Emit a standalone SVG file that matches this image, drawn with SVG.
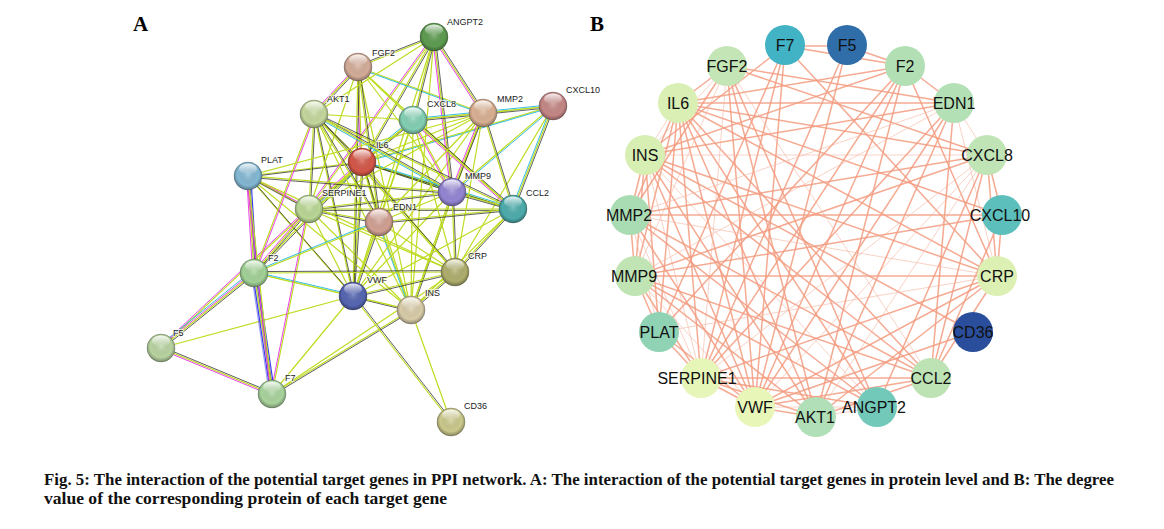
<svg xmlns="http://www.w3.org/2000/svg" width="1164" height="529" viewBox="0 0 1164 529">
<defs>
<style>
.y{stroke:#bfdb22;stroke-width:1.2;fill:none}
.k{stroke:#2a2a2a;stroke-width:0.75;fill:none}
.m{stroke:#e62ce6;stroke-width:0.9;fill:none}
.c{stroke:#20b4dc;stroke-width:0.9;fill:none}
.b{stroke:#3c3cf0;stroke-width:1.2;fill:none}
.la{font-family:"Liberation Sans",Arial,sans-serif;font-size:9px;fill:#222;stroke:#fff;stroke-width:2;stroke-opacity:0.7;paint-order:stroke}
.lb{font-family:"Liberation Sans",Arial,sans-serif;font-size:16px;fill:#111;text-anchor:middle}
.s{stroke:#f49c80;stroke-width:1.5;opacity:0.85}
.w{stroke:#f7b6a2;stroke-width:1;opacity:0.6}
.pl{font-family:"Liberation Serif","Times New Roman",serif;font-weight:bold;font-size:21px;fill:#000}
.cap{font-family:"Liberation Serif","Times New Roman",serif;font-weight:bold;font-size:16px;fill:#111}
</style>
<radialGradient id="shade" cx="50%" cy="45%" r="55%">
<stop offset="0" stop-color="#fff" stop-opacity="0.25"/>
<stop offset="0.7" stop-color="#000" stop-opacity="0.02"/>
<stop offset="1" stop-color="#000" stop-opacity="0.35"/>
</radialGradient>
<linearGradient id="gloss" x1="0" y1="0" x2="0" y2="1">
<stop offset="0" stop-color="#fff" stop-opacity="0.85"/>
<stop offset="1" stop-color="#fff" stop-opacity="0"/>
</linearGradient>
<g id="sph"><circle r="14" fill="url(#shade)" stroke="#000" stroke-opacity="0.25" stroke-width="0.8"/><ellipse cy="-7" rx="9" ry="5.5" fill="url(#gloss)"/></g>
</defs>
<rect width="1164" height="529" fill="#fff"/>
<text class="pl" x="133" y="31">A</text>
<text class="pl" x="590" y="31">B</text>

<g id="edges-a">
<line class="y" x1="362" y1="162" x2="314" y2="114"/><line class="k" x1="362" y1="162" x2="314" y2="114" transform="translate(1.3,0.8)"/>
<line class="y" x1="362" y1="162" x2="353" y2="296"/><line class="k" x1="362" y1="162" x2="353" y2="296" transform="translate(1.3,0.8)"/>
<line class="y" x1="362" y1="162" x2="309" y2="209"/><line class="k" x1="362" y1="162" x2="309" y2="209" transform="translate(1.3,0.8)"/><line class="m" x1="362" y1="162" x2="309" y2="209" transform="translate(-1.3,-0.8)"/><line class="c" x1="362" y1="162" x2="309" y2="209" transform="translate(2.4,1.6)"/>
<line class="y" x1="362" y1="162" x2="248" y2="176"/><line class="k" x1="362" y1="162" x2="248" y2="176" transform="translate(1.3,0.8)"/>
<line class="y" x1="362" y1="162" x2="452" y2="192"/><line class="k" x1="362" y1="162" x2="452" y2="192" transform="translate(1.3,0.8)"/><line class="c" x1="362" y1="162" x2="452" y2="192" transform="translate(-0.8,-1.5)"/>
<line class="y" x1="362" y1="162" x2="483" y2="113"/>
<line class="y" x1="362" y1="162" x2="411" y2="310"/>
<line class="y" x1="362" y1="162" x2="358" y2="67"/><line class="m" x1="362" y1="162" x2="358" y2="67" transform="translate(-1.3,-0.8)"/>
<line class="y" x1="362" y1="162" x2="254" y2="273"/><line class="k" x1="362" y1="162" x2="254" y2="273" transform="translate(1.3,0.8)"/>
<line class="y" x1="362" y1="162" x2="379" y2="222"/><line class="k" x1="362" y1="162" x2="379" y2="222" transform="translate(1.3,0.8)"/>
<line class="y" x1="362" y1="162" x2="413" y2="120"/><line class="k" x1="362" y1="162" x2="413" y2="120" transform="translate(1.3,0.8)"/><line class="c" x1="362" y1="162" x2="413" y2="120" transform="translate(-1.3,-0.8)"/>
<line class="y" x1="362" y1="162" x2="553" y2="106"/><line class="c" x1="362" y1="162" x2="553" y2="106" transform="translate(-0.8,1.3)"/>
<line class="y" x1="362" y1="162" x2="455" y2="272"/>
<line class="y" x1="362" y1="162" x2="513" y2="209"/><line class="k" x1="362" y1="162" x2="513" y2="209" transform="translate(1.3,0.8)"/><line class="c" x1="362" y1="162" x2="513" y2="209" transform="translate(-0.8,-1.5)"/>
<line class="y" x1="362" y1="162" x2="434" y2="37"/><line class="k" x1="362" y1="162" x2="434" y2="37" transform="translate(1.3,0.8)"/>
<line class="y" x1="411" y1="310" x2="314" y2="114"/>
<line class="y" x1="411" y1="310" x2="353" y2="296"/><line class="k" x1="411" y1="310" x2="353" y2="296" transform="translate(0.6,1.4)"/>
<line class="y" x1="411" y1="310" x2="309" y2="209"/>
<line class="y" x1="411" y1="310" x2="248" y2="176"/>
<line class="y" x1="411" y1="310" x2="452" y2="192"/><line class="k" x1="411" y1="310" x2="452" y2="192" transform="translate(1.3,0.8)"/>
<line class="y" x1="411" y1="310" x2="483" y2="113"/>
<line class="y" x1="411" y1="310" x2="358" y2="67"/>
<line class="y" x1="411" y1="310" x2="254" y2="273"/>
<line class="y" x1="411" y1="310" x2="379" y2="222"/><line class="c" x1="411" y1="310" x2="379" y2="222" transform="translate(-1.3,-0.8)"/>
<line class="y" x1="411" y1="310" x2="413" y2="120"/>
<line class="y" x1="411" y1="310" x2="455" y2="272"/><line class="k" x1="411" y1="310" x2="455" y2="272" transform="translate(1.3,0.8)"/>
<line class="y" x1="411" y1="310" x2="451" y2="422"/>
<line class="y" x1="411" y1="310" x2="513" y2="209"/>
<line class="y" x1="411" y1="310" x2="434" y2="37"/>
<line class="y" x1="411" y1="310" x2="272" y2="394"/><line class="k" x1="411" y1="310" x2="272" y2="394" transform="translate(1.3,0.8)"/>
<line class="y" x1="353" y1="296" x2="314" y2="114"/><line class="k" x1="353" y1="296" x2="314" y2="114" transform="translate(1.3,0.8)"/>
<line class="y" x1="353" y1="296" x2="309" y2="209"/>
<line class="y" x1="353" y1="296" x2="248" y2="176"/><line class="k" x1="353" y1="296" x2="248" y2="176" transform="translate(1.3,0.8)"/>
<line class="y" x1="353" y1="296" x2="452" y2="192"/>
<line class="y" x1="353" y1="296" x2="483" y2="113"/>
<line class="y" x1="353" y1="296" x2="358" y2="67"/><line class="k" x1="353" y1="296" x2="358" y2="67" transform="translate(1.3,0.8)"/>
<line class="y" x1="353" y1="296" x2="272" y2="394"/>
<line class="y" x1="353" y1="296" x2="161" y2="348"/>
<line class="y" x1="353" y1="296" x2="254" y2="273"/><line class="c" x1="353" y1="296" x2="254" y2="273" transform="translate(-0.4,-1.4)"/>
<line class="y" x1="353" y1="296" x2="379" y2="222"/><line class="k" x1="353" y1="296" x2="379" y2="222" transform="translate(1.3,0.8)"/>
<line class="y" x1="353" y1="296" x2="413" y2="120"/>
<line class="y" x1="353" y1="296" x2="455" y2="272"/><line class="k" x1="353" y1="296" x2="455" y2="272" transform="translate(0.4,1.4)"/>
<line class="y" x1="353" y1="296" x2="451" y2="422"/><line class="k" x1="353" y1="296" x2="451" y2="422" transform="translate(1.3,-0.8)"/>
<line class="y" x1="353" y1="296" x2="513" y2="209"/>
<line class="y" x1="353" y1="296" x2="434" y2="37"/>
<line class="y" x1="309" y1="209" x2="314" y2="114"/><line class="k" x1="309" y1="209" x2="314" y2="114" transform="translate(1.4,0)"/>
<line class="y" x1="309" y1="209" x2="248" y2="176"/><line class="k" x1="309" y1="209" x2="248" y2="176" transform="translate(0.7,1.3)"/><line class="m" x1="309" y1="209" x2="248" y2="176" transform="translate(-0.7,-1.3)"/>
<line class="y" x1="309" y1="209" x2="452" y2="192"/><line class="k" x1="309" y1="209" x2="452" y2="192" transform="translate(0.2,1.4)"/>
<line class="y" x1="309" y1="209" x2="483" y2="113"/>
<line class="y" x1="309" y1="209" x2="358" y2="67"/>
<line class="y" x1="309" y1="209" x2="272" y2="394"/><line class="m" x1="309" y1="209" x2="272" y2="394" transform="translate(-1.4,0)"/>
<line class="y" x1="309" y1="209" x2="161" y2="348"/><line class="m" x1="309" y1="209" x2="161" y2="348" transform="translate(-1,-1)"/>
<line class="y" x1="309" y1="209" x2="254" y2="273"/><line class="k" x1="309" y1="209" x2="254" y2="273" transform="translate(1,1)"/><line class="m" x1="309" y1="209" x2="254" y2="273" transform="translate(-1,-1)"/>
<line class="y" x1="309" y1="209" x2="379" y2="222"/><line class="k" x1="309" y1="209" x2="379" y2="222" transform="translate(0.2,1.4)"/>
<line class="y" x1="309" y1="209" x2="413" y2="120"/>
<line class="y" x1="309" y1="209" x2="455" y2="272"/>
<line class="y" x1="309" y1="209" x2="513" y2="209"/><line class="k" x1="309" y1="209" x2="513" y2="209" transform="translate(0,1.4)"/>
<line class="y" x1="309" y1="209" x2="434" y2="37"/><line class="m" x1="309" y1="209" x2="434" y2="37" transform="translate(-1.2,-0.8)"/>
<line class="y" x1="455" y1="272" x2="314" y2="114"/><line class="k" x1="455" y1="272" x2="314" y2="114" transform="translate(1.3,-0.8)"/>
<line class="y" x1="455" y1="272" x2="248" y2="176"/>
<line class="y" x1="455" y1="272" x2="452" y2="192"/><line class="k" x1="455" y1="272" x2="452" y2="192" transform="translate(1.4,0)"/>
<line class="y" x1="455" y1="272" x2="483" y2="113"/>
<line class="y" x1="455" y1="272" x2="254" y2="273"/><line class="k" x1="455" y1="272" x2="254" y2="273" transform="translate(0,-1.4)"/>
<line class="y" x1="455" y1="272" x2="379" y2="222"/>
<line class="y" x1="455" y1="272" x2="413" y2="120"/>
<line class="y" x1="455" y1="272" x2="553" y2="106"/>
<line class="y" x1="455" y1="272" x2="513" y2="209"/><line class="k" x1="455" y1="272" x2="513" y2="209" transform="translate(1,1)"/>
<line class="y" x1="455" y1="272" x2="272" y2="394"/>
<line class="y" x1="358" y1="67" x2="314" y2="114"/><line class="k" x1="358" y1="67" x2="314" y2="114" transform="translate(1,1)"/><line class="m" x1="358" y1="67" x2="314" y2="114" transform="translate(-1,-1)"/>
<line class="y" x1="358" y1="67" x2="452" y2="192"/>
<line class="y" x1="358" y1="67" x2="483" y2="113"/><line class="c" x1="358" y1="67" x2="483" y2="113" transform="translate(0.5,1.3)"/>
<line class="y" x1="358" y1="67" x2="379" y2="222"/><line class="k" x1="358" y1="67" x2="379" y2="222" transform="translate(1.4,0)"/>
<line class="y" x1="358" y1="67" x2="413" y2="120"/>
<line class="y" x1="358" y1="67" x2="513" y2="209"/>
<line class="y" x1="358" y1="67" x2="434" y2="37"/><line class="k" x1="358" y1="67" x2="434" y2="37" transform="translate(-0.5,-1.3)"/>
<line class="y" x1="452" y1="192" x2="314" y2="114"/><line class="k" x1="452" y1="192" x2="314" y2="114" transform="translate(0.7,-1.2)"/><line class="c" x1="452" y1="192" x2="314" y2="114" transform="translate(-0.7,1.2)"/>
<line class="y" x1="452" y1="192" x2="248" y2="176"/><line class="k" x1="452" y1="192" x2="248" y2="176" transform="translate(0,1.4)"/>
<line class="y" x1="452" y1="192" x2="483" y2="113"/><line class="k" x1="452" y1="192" x2="483" y2="113" transform="translate(1.3,0.5)"/><line class="m" x1="452" y1="192" x2="483" y2="113" transform="translate(-1.3,-0.5)"/>
<line class="y" x1="452" y1="192" x2="379" y2="222"/>
<line class="y" x1="452" y1="192" x2="413" y2="120"/><line class="m" x1="452" y1="192" x2="413" y2="120" transform="translate(-1.2,0.7)"/>
<line class="y" x1="452" y1="192" x2="553" y2="106"/><line class="c" x1="452" y1="192" x2="553" y2="106" transform="translate(1,1)"/>
<line class="y" x1="452" y1="192" x2="513" y2="209"/><line class="k" x1="452" y1="192" x2="513" y2="209" transform="translate(0.3,1.3)"/>
<line class="y" x1="452" y1="192" x2="434" y2="37"/><line class="k" x1="452" y1="192" x2="434" y2="37" transform="translate(1.4,0)"/><line class="m" x1="452" y1="192" x2="434" y2="37" transform="translate(-1.4,0)"/>
<line class="y" x1="314" y1="114" x2="379" y2="222"/><line class="k" x1="314" y1="114" x2="379" y2="222" transform="translate(1.2,-0.7)"/>
<line class="y" x1="314" y1="114" x2="413" y2="120"/>
<line class="y" x1="314" y1="114" x2="513" y2="209"/><line class="k" x1="314" y1="114" x2="513" y2="209" transform="translate(0.6,-1.3)"/>
<line class="y" x1="314" y1="114" x2="434" y2="37"/>
<line class="y" x1="314" y1="114" x2="254" y2="273"/><line class="m" x1="314" y1="114" x2="254" y2="273" transform="translate(1.3,0.5)"/>
<line class="y" x1="413" y1="120" x2="483" y2="113"/><line class="k" x1="413" y1="120" x2="483" y2="113" transform="translate(0,1.4)"/><line class="c" x1="413" y1="120" x2="483" y2="113" transform="translate(0,-1.4)"/>
<line class="y" x1="413" y1="120" x2="379" y2="222"/>
<line class="y" x1="413" y1="120" x2="553" y2="106"/>
<line class="y" x1="413" y1="120" x2="513" y2="209"/><line class="k" x1="413" y1="120" x2="513" y2="209" transform="translate(1,-1)"/><line class="m" x1="413" y1="120" x2="513" y2="209" transform="translate(-1,1)"/>
<line class="y" x1="413" y1="120" x2="434" y2="37"/><line class="k" x1="413" y1="120" x2="434" y2="37" transform="translate(1.4,0.3)"/>
<line class="y" x1="379" y1="222" x2="483" y2="113"/>
<line class="y" x1="379" y1="222" x2="513" y2="209"/><line class="k" x1="379" y1="222" x2="513" y2="209" transform="translate(0.1,1.4)"/>
<line class="y" x1="379" y1="222" x2="254" y2="273"/><line class="c" x1="379" y1="222" x2="254" y2="273" transform="translate(-0.5,-1.3)"/>
<line class="y" x1="254" y1="273" x2="248" y2="176"/><line class="k" x1="254" y1="273" x2="248" y2="176" transform="translate(1.4,0)"/><line class="m" x1="254" y1="273" x2="248" y2="176" transform="translate(-1.4,0)"/><line class="b" x1="254" y1="273" x2="248" y2="176" transform="translate(2.8,0)"/>
<line class="y" x1="254" y1="273" x2="272" y2="394"/><line class="k" x1="254" y1="273" x2="272" y2="394" transform="translate(1.4,0)"/><line class="b" x1="254" y1="273" x2="272" y2="394" transform="translate(-1.4,0)"/><line class="b" x1="254" y1="273" x2="272" y2="394" transform="translate(2.8,0)"/><line class="b" x1="254" y1="273" x2="272" y2="394" transform="translate(-2.6,0)" style="opacity:0.5"/>
<line class="y" x1="254" y1="273" x2="161" y2="348"/><line class="k" x1="254" y1="273" x2="161" y2="348" transform="translate(0.9,1.1)"/><line class="m" x1="254" y1="273" x2="161" y2="348" transform="translate(-0.9,-1.1)"/><line class="c" x1="254" y1="273" x2="161" y2="348" transform="translate(-1.8,-2.2)"/>
<line class="y" x1="513" y1="209" x2="553" y2="106"/><line class="k" x1="513" y1="209" x2="553" y2="106" transform="translate(1.3,0.5)"/><line class="c" x1="513" y1="209" x2="553" y2="106" transform="translate(-1.3,-0.5)"/>
<line class="y" x1="513" y1="209" x2="483" y2="113"/><line class="k" x1="513" y1="209" x2="483" y2="113" transform="translate(1.3,-0.4)"/>
<line class="y" x1="483" y1="113" x2="434" y2="37"/><line class="k" x1="483" y1="113" x2="434" y2="37" transform="translate(1.2,-0.7)"/><line class="m" x1="483" y1="113" x2="434" y2="37" transform="translate(-1.2,0.7)"/>
<line class="y" x1="483" y1="113" x2="248" y2="176"/>
<line class="y" x1="248" y1="176" x2="272" y2="394"/><line class="m" x1="248" y1="176" x2="272" y2="394" transform="translate(-1.4,0)"/>
<line class="y" x1="272" y1="394" x2="161" y2="348"/><line class="k" x1="272" y1="394" x2="161" y2="348" transform="translate(0.5,-1.3)"/><line class="m" x1="272" y1="394" x2="161" y2="348" transform="translate(-0.5,1.3)"/>
<line class="y" x1="483" y1="113" x2="553" y2="106"/><line class="k" x1="483" y1="113" x2="553" y2="106" transform="translate(0,1.4)"/><line class="c" x1="483" y1="113" x2="553" y2="106" transform="translate(0,-1.4)"/>
</g>

<g id="a-ANGPT2"><circle cx="434" cy="37" r="14" fill="#5f9f52"/><use href="#sph" x="434" y="37"/><text class="la" x="447" y="24.5">ANGPT2</text></g>
<g id="a-FGF2"><circle cx="358" cy="67" r="14" fill="#d8b09c"/><use href="#sph" x="358" y="67"/><text class="la" x="372" y="55.5">FGF2</text></g>
<g id="a-AKT1"><circle cx="314" cy="114" r="14" fill="#c9dca0"/><use href="#sph" x="314" y="114"/><text class="la" x="327" y="102">AKT1</text></g>
<g id="a-CXCL8"><circle cx="413" cy="120" r="14" fill="#86d4b8"/><use href="#sph" x="413" y="120"/><text class="la" x="427" y="107">CXCL8</text></g>
<g id="a-MMP2"><circle cx="483" cy="113" r="14" fill="#deb496"/><use href="#sph" x="483" y="113"/><text class="la" x="497" y="102">MMP2</text></g>
<g id="a-CXCL10"><circle cx="553" cy="106" r="14" fill="#c98a88"/><use href="#sph" x="553" y="106"/><text class="la" x="566" y="93">CXCL10</text></g>
<g id="a-IL6"><circle cx="362" cy="162" r="14" fill="#d9594a"/><use href="#sph" x="362" y="162"/><text class="la" x="376" y="148">IL6</text></g>
<g id="a-PLAT"><circle cx="248" cy="176" r="14" fill="#86bcd8"/><use href="#sph" x="248" y="176"/><text class="la" x="261" y="163">PLAT</text></g>
<g id="a-MMP9"><circle cx="452" cy="192" r="14" fill="#9888d8"/><use href="#sph" x="452" y="192"/><text class="la" x="465" y="178.5">MMP9</text></g>
<g id="a-CCL2"><circle cx="513" cy="209" r="14" fill="#4fb0b0"/><use href="#sph" x="513" y="209"/><text class="la" x="526" y="196">CCL2</text></g>
<g id="a-SERPINE1"><circle cx="309" cy="209" r="14" fill="#bedc98"/><use href="#sph" x="309" y="209"/><text class="la" x="322" y="195.5">SERPINE1</text></g>
<g id="a-EDN1"><circle cx="379" cy="222" r="14" fill="#d6a496"/><use href="#sph" x="379" y="222"/><text class="la" x="393" y="209.5">EDN1</text></g>
<g id="a-F2"><circle cx="254" cy="273" r="14" fill="#a6d69a"/><use href="#sph" x="254" y="273"/><text class="la" x="268" y="261">F2</text></g>
<g id="a-VWF"><circle cx="353" cy="296" r="14" fill="#5868b6"/><use href="#sph" x="353" y="296"/><text class="la" x="367" y="283">VWF</text></g>
<g id="a-CRP"><circle cx="455" cy="272" r="14" fill="#b3b270"/><use href="#sph" x="455" y="272"/><text class="la" x="468" y="259">CRP</text></g>
<g id="a-INS"><circle cx="411" cy="310" r="14" fill="#ddd0ac"/><use href="#sph" x="411" y="310"/><text class="la" x="425" y="295.5">INS</text></g>
<g id="a-F5"><circle cx="161" cy="348" r="14" fill="#bcd8a4"/><use href="#sph" x="161" y="348"/><text class="la" x="173" y="335.5">F5</text></g>
<g id="a-F7"><circle cx="272" cy="394" r="14" fill="#acd8a0"/><use href="#sph" x="272" y="394"/><text class="la" x="285" y="381">F7</text></g>
<g id="a-CD36"><circle cx="451" cy="422" r="14" fill="#cfcd8e"/><use href="#sph" x="451" y="422"/><text class="la" x="464" y="408.5">CD36</text></g>

<g id="edges-b">
<line class="s" x1="678" y1="103" x2="816" y2="417"/>
<line class="s" x1="678" y1="103" x2="755" y2="407"/>
<line class="s" x1="678" y1="103" x2="701" y2="378"/>
<line class="s" x1="678" y1="103" x2="659" y2="332"/>
<line class="s" x1="678" y1="103" x2="635" y2="276"/>
<line class="s" x1="678" y1="103" x2="630" y2="215"/>
<line class="w" x1="678" y1="103" x2="645" y2="155"/>
<line class="s" x1="678" y1="103" x2="727" y2="66"/>
<line class="s" x1="678" y1="103" x2="905" y2="66"/>
<line class="s" x1="678" y1="103" x2="954" y2="103"/>
<line class="s" x1="678" y1="103" x2="987" y2="155"/>
<line class="s" x1="678" y1="103" x2="1002" y2="215"/>
<line class="s" x1="678" y1="103" x2="997" y2="276"/>
<line class="s" x1="678" y1="103" x2="931" y2="378"/>
<line class="s" x1="678" y1="103" x2="877" y2="407"/>
<line class="s" x1="645" y1="155" x2="816" y2="417"/>
<line class="s" x1="645" y1="155" x2="755" y2="407"/>
<line class="w" x1="645" y1="155" x2="701" y2="378"/>
<line class="s" x1="645" y1="155" x2="659" y2="332"/>
<line class="s" x1="645" y1="155" x2="635" y2="276"/>
<line class="s" x1="645" y1="155" x2="630" y2="215"/>
<line class="w" x1="645" y1="155" x2="727" y2="66"/>
<line class="s" x1="645" y1="155" x2="905" y2="66"/>
<line class="s" x1="645" y1="155" x2="954" y2="103"/>
<line class="w" x1="645" y1="155" x2="987" y2="155"/>
<line class="s" x1="645" y1="155" x2="997" y2="276"/>
<line class="s" x1="645" y1="155" x2="973" y2="332"/>
<line class="s" x1="645" y1="155" x2="931" y2="378"/>
<line class="w" x1="645" y1="155" x2="877" y2="407"/>
<line class="s" x1="645" y1="155" x2="785" y2="46"/>
<line class="s" x1="755" y1="407" x2="816" y2="417"/>
<line class="s" x1="755" y1="407" x2="701" y2="378"/>
<line class="s" x1="755" y1="407" x2="659" y2="332"/>
<line class="w" x1="755" y1="407" x2="635" y2="276"/>
<line class="s" x1="755" y1="407" x2="630" y2="215"/>
<line class="s" x1="755" y1="407" x2="727" y2="66"/>
<line class="s" x1="755" y1="407" x2="785" y2="46"/>
<line class="s" x1="755" y1="407" x2="847" y2="46"/>
<line class="s" x1="755" y1="407" x2="905" y2="66"/>
<line class="s" x1="755" y1="407" x2="954" y2="103"/>
<line class="w" x1="755" y1="407" x2="987" y2="155"/>
<line class="s" x1="755" y1="407" x2="997" y2="276"/>
<line class="s" x1="755" y1="407" x2="973" y2="332"/>
<line class="s" x1="755" y1="407" x2="931" y2="378"/>
<line class="w" x1="755" y1="407" x2="877" y2="407"/>
<line class="s" x1="701" y1="378" x2="816" y2="417"/>
<line class="s" x1="701" y1="378" x2="659" y2="332"/>
<line class="s" x1="701" y1="378" x2="635" y2="276"/>
<line class="w" x1="701" y1="378" x2="630" y2="215"/>
<line class="w" x1="701" y1="378" x2="727" y2="66"/>
<line class="s" x1="701" y1="378" x2="785" y2="46"/>
<line class="s" x1="701" y1="378" x2="847" y2="46"/>
<line class="s" x1="701" y1="378" x2="905" y2="66"/>
<line class="s" x1="701" y1="378" x2="954" y2="103"/>
<line class="w" x1="701" y1="378" x2="987" y2="155"/>
<line class="s" x1="701" y1="378" x2="997" y2="276"/>
<line class="s" x1="701" y1="378" x2="931" y2="378"/>
<line class="s" x1="701" y1="378" x2="877" y2="407"/>
<line class="s" x1="997" y1="276" x2="816" y2="417"/>
<line class="w" x1="997" y1="276" x2="659" y2="332"/>
<line class="s" x1="997" y1="276" x2="635" y2="276"/>
<line class="w" x1="997" y1="276" x2="630" y2="215"/>
<line class="s" x1="997" y1="276" x2="905" y2="66"/>
<line class="w" x1="997" y1="276" x2="954" y2="103"/>
<line class="s" x1="997" y1="276" x2="987" y2="155"/>
<line class="s" x1="997" y1="276" x2="1002" y2="215"/>
<line class="s" x1="997" y1="276" x2="931" y2="378"/>
<line class="s" x1="997" y1="276" x2="785" y2="46"/>
<line class="s" x1="727" y1="66" x2="816" y2="417"/>
<line class="w" x1="727" y1="66" x2="635" y2="276"/>
<line class="s" x1="727" y1="66" x2="630" y2="215"/>
<line class="s" x1="727" y1="66" x2="954" y2="103"/>
<line class="s" x1="727" y1="66" x2="987" y2="155"/>
<line class="w" x1="727" y1="66" x2="931" y2="378"/>
<line class="s" x1="727" y1="66" x2="877" y2="407"/>
<line class="s" x1="635" y1="276" x2="816" y2="417"/>
<line class="s" x1="635" y1="276" x2="659" y2="332"/>
<line class="s" x1="635" y1="276" x2="630" y2="215"/>
<line class="w" x1="635" y1="276" x2="954" y2="103"/>
<line class="s" x1="635" y1="276" x2="987" y2="155"/>
<line class="s" x1="635" y1="276" x2="1002" y2="215"/>
<line class="s" x1="635" y1="276" x2="931" y2="378"/>
<line class="s" x1="635" y1="276" x2="877" y2="407"/>
<line class="s" x1="816" y1="417" x2="954" y2="103"/>
<line class="w" x1="816" y1="417" x2="987" y2="155"/>
<line class="s" x1="816" y1="417" x2="931" y2="378"/>
<line class="w" x1="816" y1="417" x2="877" y2="407"/>
<line class="s" x1="816" y1="417" x2="905" y2="66"/>
<line class="s" x1="987" y1="155" x2="630" y2="215"/>
<line class="w" x1="987" y1="155" x2="954" y2="103"/>
<line class="s" x1="987" y1="155" x2="1002" y2="215"/>
<line class="s" x1="987" y1="155" x2="931" y2="378"/>
<line class="s" x1="987" y1="155" x2="877" y2="407"/>
<line class="w" x1="954" y1="103" x2="630" y2="215"/>
<line class="s" x1="954" y1="103" x2="931" y2="378"/>
<line class="s" x1="954" y1="103" x2="905" y2="66"/>
<line class="s" x1="905" y1="66" x2="659" y2="332"/>
<line class="s" x1="905" y1="66" x2="785" y2="46"/>
<line class="s" x1="905" y1="66" x2="847" y2="46"/>
<line class="s" x1="931" y1="378" x2="1002" y2="215"/>
<line class="s" x1="931" y1="378" x2="630" y2="215"/>
<line class="s" x1="630" y1="215" x2="877" y2="407"/>
<line class="w" x1="630" y1="215" x2="659" y2="332"/>
<line class="s" x1="659" y1="332" x2="785" y2="46"/>
<line class="s" x1="785" y1="46" x2="847" y2="46"/>
<line class="s" x1="630" y1="215" x2="1002" y2="215"/>
</g>

<g id="b-AKT1"><circle cx="816" cy="417" r="20" fill="#b0dfb8"/><text class="lb" x="815" y="423">AKT1</text></g>
<g id="b-VWF"><circle cx="755" cy="407" r="20" fill="#e8f6b8"/><text class="lb" x="755" y="413">VWF</text></g>
<g id="b-SERPINE1"><circle cx="701" cy="378" r="20" fill="#e6f5b8"/><text class="lb" x="697" y="384">SERPINE1</text></g>
<g id="b-PLAT"><circle cx="659" cy="332" r="20" fill="#8fd3b4"/><text class="lb" x="659" y="338">PLAT</text></g>
<g id="b-MMP9"><circle cx="635" cy="276" r="20" fill="#c0e4b4"/><text class="lb" x="634" y="282">MMP9</text></g>
<g id="b-MMP2"><circle cx="630" cy="215" r="20" fill="#aadcb4"/><text class="lb" x="629" y="221">MMP2</text></g>
<g id="b-INS"><circle cx="645" cy="155" r="20" fill="#d8efb4"/><text class="lb" x="645" y="161">INS</text></g>
<g id="b-IL6"><circle cx="678" cy="103" r="20" fill="#d9efb4"/><text class="lb" x="678" y="109">IL6</text></g>
<g id="b-FGF2"><circle cx="727" cy="66" r="20" fill="#c4e6b6"/><text class="lb" x="727" y="72">FGF2</text></g>
<g id="b-F7"><circle cx="785" cy="45" r="20" fill="#42b3c4"/><text class="lb" x="785" y="51">F7</text></g>
<g id="b-F5"><circle cx="847" cy="45" r="20" fill="#2f6ea8"/><text class="lb" x="847" y="51">F5</text></g>
<g id="b-F2"><circle cx="905" cy="66" r="20" fill="#b2dfb4"/><text class="lb" x="905" y="72">F2</text></g>
<g id="b-EDN1"><circle cx="954" cy="103" r="20" fill="#b4e0b6"/><text class="lb" x="954" y="109">EDN1</text></g>
<g id="b-CXCL8"><circle cx="987" cy="155" r="20" fill="#c0e4b6"/><text class="lb" x="987" y="161">CXCL8</text></g>
<g id="b-CXCL10"><circle cx="1002" cy="215" r="20" fill="#5cbfbc"/><text class="lb" x="1000" y="221">CXCL10</text></g>
<g id="b-CRP"><circle cx="997" cy="276" r="20" fill="#dcf0b4"/><text class="lb" x="997" y="282">CRP</text></g>
<g id="b-CD36"><circle cx="973" cy="332" r="20" fill="#2a4e9c"/><text class="lb" x="973" y="338">CD36</text></g>
<g id="b-CCL2"><circle cx="931" cy="378" r="20" fill="#bde3b4"/><text class="lb" x="931" y="384">CCL2</text></g>
<g id="b-ANGPT2"><circle cx="877" cy="407" r="20" fill="#72c9ba"/><text class="lb" x="874" y="413">ANGPT2</text></g>

<g id="caption">
<text class="cap" x="44" y="485" textLength="1070" lengthAdjust="spacingAndGlyphs">Fig. 5: The interaction of the potential target genes in PPI network. A: The interaction of the potential target genes in protein level and B: The degree</text>
<text class="cap" x="44" y="504" textLength="403" lengthAdjust="spacingAndGlyphs">value of the corresponding protein of each target gene</text>
</g>
</svg>
